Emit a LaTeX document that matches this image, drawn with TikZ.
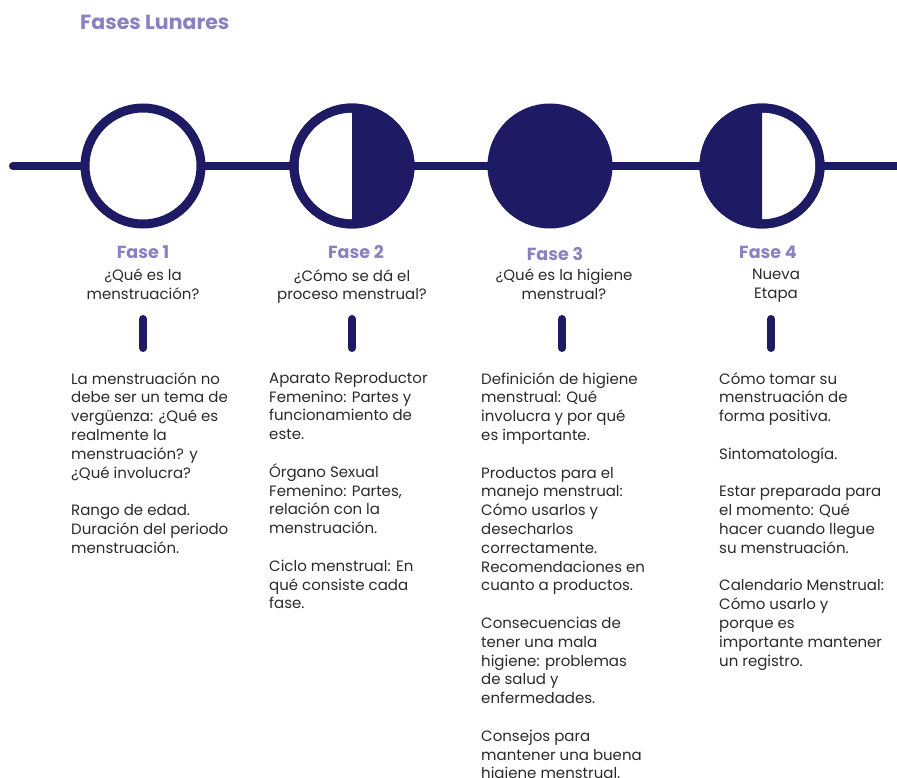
\documentclass[tikz,border=0pt]{standalone}
\usepackage{fontspec}
\setmainfont{Poppins}
\definecolor{navy}{HTML}{1E1A64}
\definecolor{lav}{HTML}{8A80C2}
\definecolor{ink}{HTML}{2A2A2A}
\tikzset{
  x=1pt,y=1pt,
  moon/.style={circle,draw=navy,line width=9pt,minimum size=116pt,inner sep=0pt,outer sep=0pt,fill=white},
  track/.style={draw=navy,line width=8pt,line cap=round},
  bar/.style={draw=navy,line width=8pt,line cap=round},
  fase/.style={font=\fontsize{17.5}{20}\selectfont\bfseries,text=lav,inner sep=0pt},
  quest/.style={font=\fontsize{15}{18.8}\selectfont,text=ink,align=center,inner sep=0pt},
  body/.style={font=\fontsize{15}{18.8}\selectfont,text=ink,align=left,inner sep=0pt,anchor=north west},
}
\begin{document}
\begin{tikzpicture}
\useasboundingbox (0,0) rectangle (897,-778);
\node[font=\fontsize{20.5}{22}\selectfont\bfseries,text=lav,anchor=west,inner sep=0pt] (title) at (80,-22) {Fases Lunares};
\coordinate (Lstart) at (13,-166);
\coordinate (Lend) at (905,-166);
\draw[track] (Lstart) -- (Lend);
\node[moon] (m1) at (143,-166) {};
\node[moon] (m2) at (352,-166) {};
\fill[navy] (m2.north) arc[start angle=90,end angle=-90,radius=58pt] -- cycle;
\draw[navy,line width=9pt] (m2.center) circle[radius=58pt];
\node[moon,fill=navy] (m3) at (550,-166) {};
\node[moon] (m4) at (762,-166) {};
\fill[navy] (m4.north) arc[start angle=90,end angle=270,radius=58pt] -- cycle;
\draw[navy,line width=9pt] (m4.center) circle[radius=58pt];

\node[fase] (f1) at (143,-252) {Fase 1};
\node[fase] (f2) at (356,-252) {Fase 2};
\node[fase] (f3) at (555,-254) {Fase 3};
\node[fase] (f4) at (768,-252) {Fase 4};

\node[quest,anchor=north] (q1) at (143,-269) {¿Qué es la\\menstruación?};
\node[quest,anchor=north] (q2) at (352,-269) {¿Cómo se dá el\\proceso menstrual?};
\node[quest,anchor=north] (q3) at (564,-269) {¿Qué es la higiene\\menstrual?};
\node[quest,anchor=north] (q4) at (776,-269) {Nueva\\Etapa};

\foreach \i/\x in {1/143,2/352,3/562,4/771}{
  \coordinate (b\i t) at (\x,-319);
  \coordinate (b\i b) at (\x,-348);
  \draw[bar] (b\i t) -- (b\i b);
}

\node[body] (t1) at (71,-372) {La menstruación no\\debe ser un tema de\\vergüenza: ¿Qué es\\realmente la\\menstruación? y\\¿Qué involucra?\\[18.8pt]Rango de edad.\\Duración del periodo\\menstruación.};
\node[body] (t2) at (269,-372) {Aparato Reproductor\\Femenino: Partes y\\funcionamiento de\\este.\\[18.8pt]Órgano Sexual\\Femenino: Partes,\\relación con la\\menstruación.\\[18.8pt]Ciclo menstrual: En\\qué consiste cada\\fase.};
\node[body] (t3) at (481,-372) {Definición de higiene\\menstrual: Qué\\involucra y por qué\\es importante.\\[18.8pt]Productos para el\\manejo menstrual:\\Cómo usarlos y\\desecharlos\\correctamente.\\Recomendaciones en\\cuanto a productos.\\[18.8pt]Consecuencias de\\tener una mala\\higiene: problemas\\de salud y\\enfermedades.\\[18.8pt]Consejos para\\mantener una buena\\higiene menstrual.};
\node[body] (t4) at (719,-372) {Cómo tomar su\\menstruación de\\forma positiva.\\[18.8pt]Sintomatología.\\[18.8pt]Estar preparada para\\el momento: Qué\\hacer cuando llegue\\su menstruación.\\[18.8pt]Calendario Menstrual:\\Cómo usarlo y\\porque es\\importante mantener\\un registro.};
\end{tikzpicture}
\end{document}
